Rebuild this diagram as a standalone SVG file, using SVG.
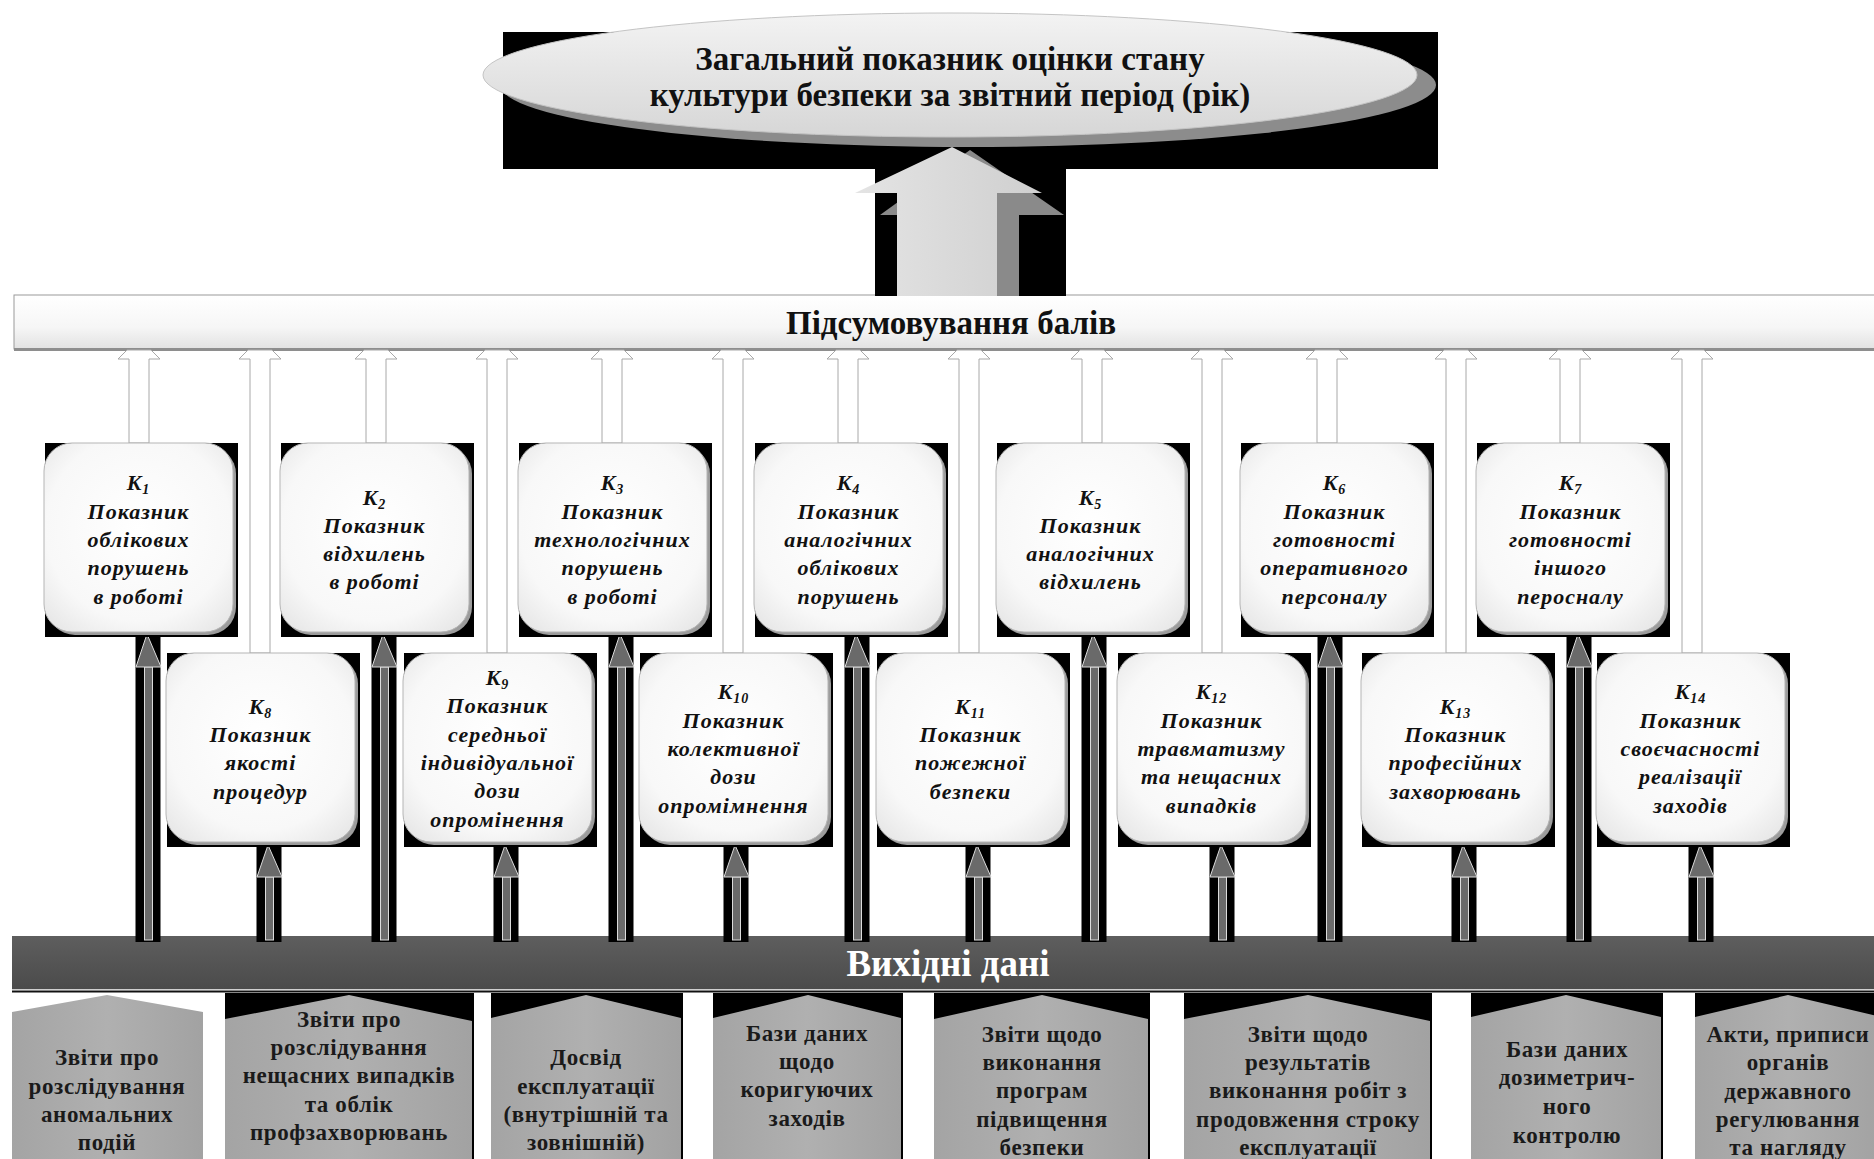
<svg xmlns="http://www.w3.org/2000/svg" width="1874" height="1159" viewBox="0 0 1874 1159">
<defs>
<linearGradient id="ellGrad" x1="0" y1="0" x2="0" y2="1"><stop offset="0" stop-color="#f3f3f3"/><stop offset="1" stop-color="#d6d6d6"/></linearGradient>
<linearGradient id="bigArr" x1="0" y1="0" x2="1" y2="0"><stop offset="0" stop-color="#e4e4e4"/><stop offset="1" stop-color="#cfcfcf"/></linearGradient>
<linearGradient id="barGrad" x1="0" y1="0" x2="0" y2="1"><stop offset="0" stop-color="#ffffff"/><stop offset="0.6" stop-color="#f6f6f6"/><stop offset="1" stop-color="#e2e2e2"/></linearGradient>
<linearGradient id="darkGrad" x1="0" y1="0" x2="0" y2="1"><stop offset="0" stop-color="#5e5e5e"/><stop offset="1" stop-color="#4b4b4b"/></linearGradient>
<radialGradient id="boxGrad" cx="0.5" cy="0.45" r="0.7"><stop offset="0" stop-color="#ffffff"/><stop offset="0.7" stop-color="#f8f8f8"/><stop offset="1" stop-color="#e6e6e6"/></radialGradient>
<linearGradient id="srcGrad" x1="0" y1="0" x2="1" y2="0"><stop offset="0" stop-color="#a4a4a4"/><stop offset="0.5" stop-color="#b0b0b0"/><stop offset="1" stop-color="#a2a2a2"/></linearGradient>
</defs>
<style>
.title{font-family:"Liberation Serif",serif;font-weight:bold;font-size:33px;fill:#111;text-anchor:middle}
.bar1{font-family:"Liberation Serif",serif;font-weight:bold;font-size:33px;fill:#111;text-anchor:middle}
.bar2{font-family:"Liberation Serif",serif;font-weight:bold;font-size:37px;fill:#fff;text-anchor:middle}
.kt{font-family:"Liberation Serif",serif;font-weight:bold;font-style:italic;font-size:22px;fill:#111;text-anchor:middle;letter-spacing:1px}
.sub{font-size:14px}
.st{font-family:"Liberation Serif",serif;font-weight:bold;font-size:23px;fill:#1a1a1a;text-anchor:middle;letter-spacing:0.6px}
.kbg{fill:#000}
.ksh{fill:#9c9c9c}
.kbox{fill:url(#boxGrad);stroke:#b5b5b5;stroke-width:1}
.thin{fill:#fff;stroke:#a8a8a8;stroke-width:1}
.tk{fill:#000}
.tka{fill:#6a6a6a;stroke:#dcdcdc;stroke-width:1}
.src{fill:url(#srcGrad)}
</style>
<rect width="1874" height="1159" fill="#fff"/>

<g id="title">
<rect x="503" y="32" width="935" height="137" fill="#000"/>
<ellipse cx="968" cy="85" rx="468" ry="62" fill="#8c8c8c"/>
<ellipse cx="950" cy="75" rx="467" ry="62" fill="url(#ellGrad)" stroke="#c4c4c4" stroke-width="1"/>
<text class="title" x="950" y="70">Загальний показник оцінки стану</text>
<text class="title" x="950" y="106">культури безпеки за звітний період (рік)</text>
</g>

<g id="bar-sum">
<rect x="14" y="295" width="1870" height="54" fill="url(#barGrad)" stroke="#9a9a9a" stroke-width="1"/>
<line x1="14" y1="349.5" x2="1874" y2="349.5" stroke="#8e8e8e" stroke-width="3"/>
<text class="bar1" x="951" y="334">Підсумовування балів</text>
</g>

<g id="bar-src">
<rect x="12" y="936" width="1870" height="53" fill="url(#darkGrad)"/>
<line x1="12" y1="989.5" x2="1874" y2="989.5" stroke="#cfcfcf" stroke-width="1"/>
<line x1="12" y1="991.5" x2="1874" y2="991.5" stroke="#111" stroke-width="2"/>
<text class="bar2" x="948" y="976">Вихідні дані</text>
</g>

<g id="connectors">
<g id="big-arrow">
<rect x="875" y="167" width="191" height="129" fill="#000"/>
<polygon points="919,296 919,215 880,215 970,150 1064,215 1019,215 1019,296" fill="#8a8a8a"/>
<polygon points="897,296 897,193 855,193 952,147 1042,193 997,193 997,296" fill="url(#bigArr)"/>
</g>
<g id="thin-arrows">
<polygon class="thin" points="129,443 129,359 118,359 127,350 151,350 160,359 149,359 149,443"/>
<polygon class="thin" points="250,653 250,359 239,359 248,350 272,350 281,359 270,359 270,653"/>
<polygon class="thin" points="366,443 366,359 355,359 364,350 388,350 397,359 386,359 386,443"/>
<polygon class="thin" points="487,653 487,359 476,359 485,350 509,350 518,359 507,359 507,653"/>
<polygon class="thin" points="602,443 602,359 591,359 600,350 624,350 633,359 622,359 622,443"/>
<polygon class="thin" points="723,653 723,359 712,359 721,350 745,350 754,359 743,359 743,653"/>
<polygon class="thin" points="838,443 838,359 827,359 836,350 860,350 869,359 858,359 858,443"/>
<polygon class="thin" points="959,653 959,359 948,359 957,350 981,350 990,359 979,359 979,653"/>
<polygon class="thin" points="1082,443 1082,359 1071,359 1080,350 1104,350 1113,359 1102,359 1102,443"/>
<polygon class="thin" points="1202,653 1202,359 1191,359 1200,350 1224,350 1233,359 1222,359 1222,653"/>
<polygon class="thin" points="1317,443 1317,359 1306,359 1315,350 1339,350 1348,359 1337,359 1337,443"/>
<polygon class="thin" points="1446,653 1446,359 1435,359 1444,350 1468,350 1477,359 1466,359 1466,653"/>
<polygon class="thin" points="1560,443 1560,359 1549,359 1558,350 1582,350 1591,359 1580,359 1580,443"/>
<polygon class="thin" points="1682,653 1682,359 1671,359 1680,350 1704,350 1713,359 1702,359 1702,653"/>
</g>
<g id="thick-arrows">
<g><rect class="tk" x="135.5" y="632" width="25" height="310"/><rect class="tka" x="144.5" y="667" width="8" height="273"/><polygon class="tka" points="147,634 136,667 161,667"/></g>
<g><rect class="tk" x="371.5" y="632" width="25" height="310"/><rect class="tka" x="380.5" y="667" width="8" height="273"/><polygon class="tka" points="383,634 372,667 397,667"/></g>
<g><rect class="tk" x="608.5" y="632" width="25" height="310"/><rect class="tka" x="617.5" y="667" width="8" height="273"/><polygon class="tka" points="620,634 609,667 634,667"/></g>
<g><rect class="tk" x="844.5" y="632" width="25" height="310"/><rect class="tka" x="853.5" y="667" width="8" height="273"/><polygon class="tka" points="856,634 845,667 870,667"/></g>
<g><rect class="tk" x="1081.5" y="632" width="25" height="310"/><rect class="tka" x="1090.5" y="667" width="8" height="273"/><polygon class="tka" points="1093,634 1082,667 1107,667"/></g>
<g><rect class="tk" x="1317.5" y="632" width="25" height="310"/><rect class="tka" x="1326.5" y="667" width="8" height="273"/><polygon class="tka" points="1329,634 1318,667 1343,667"/></g>
<g><rect class="tk" x="1566.5" y="632" width="25" height="310"/><rect class="tka" x="1575.5" y="667" width="8" height="273"/><polygon class="tka" points="1578,634 1567,667 1592,667"/></g>
<g><rect class="tk" x="256.5" y="843" width="25" height="99"/><rect class="tka" x="265.5" y="877" width="8" height="63"/><polygon class="tka" points="268,845 257,877 282,877"/></g>
<g><rect class="tk" x="493.5" y="843" width="25" height="99"/><rect class="tka" x="502.5" y="877" width="8" height="63"/><polygon class="tka" points="505,845 494,877 519,877"/></g>
<g><rect class="tk" x="723.5" y="843" width="25" height="99"/><rect class="tka" x="732.5" y="877" width="8" height="63"/><polygon class="tka" points="735,845 724,877 749,877"/></g>
<g><rect class="tk" x="965.5" y="843" width="25" height="99"/><rect class="tka" x="974.5" y="877" width="8" height="63"/><polygon class="tka" points="977,845 966,877 991,877"/></g>
<g><rect class="tk" x="1209.5" y="843" width="25" height="99"/><rect class="tka" x="1218.5" y="877" width="8" height="63"/><polygon class="tka" points="1221,845 1210,877 1235,877"/></g>
<g><rect class="tk" x="1451.5" y="843" width="25" height="99"/><rect class="tka" x="1460.5" y="877" width="8" height="63"/><polygon class="tka" points="1463,845 1452,877 1477,877"/></g>
<g><rect class="tk" x="1688.5" y="843" width="25" height="99"/><rect class="tka" x="1697.5" y="877" width="8" height="63"/><polygon class="tka" points="1700,845 1689,877 1714,877"/></g>
</g>
</g>

<g id="k1"><rect class="kbg" x="45" y="443" width="193" height="194"/><rect class="ksh" x="47" y="446" width="189" height="189" rx="28"/><rect class="kbox" x="44" y="443" width="189" height="189" rx="28"/>
<text class="kt"><tspan x="138.5" y="490">K<tspan class="sub" dy="4">1</tspan></tspan><tspan x="138.5" y="519">Показник</tspan><tspan x="138.5" y="547">облікових</tspan><tspan x="138.5" y="575">порушень</tspan><tspan x="138.5" y="604">в роботі</tspan></text></g>
<g id="k2"><rect class="kbg" x="281" y="443" width="193" height="194"/><rect class="ksh" x="283" y="446" width="189" height="189" rx="28"/><rect class="kbox" x="280" y="443" width="189" height="189" rx="28"/>
<text class="kt"><tspan x="374.5" y="505">K<tspan class="sub" dy="4">2</tspan></tspan><tspan x="374.5" y="533">Показник</tspan><tspan x="374.5" y="561">відхилень</tspan><tspan x="374.5" y="589">в роботі</tspan></text></g>
<g id="k3"><rect class="kbg" x="519" y="443" width="193" height="194"/><rect class="ksh" x="521" y="446" width="189" height="189" rx="28"/><rect class="kbox" x="518" y="443" width="189" height="189" rx="28"/>
<text class="kt"><tspan x="612.5" y="490">K<tspan class="sub" dy="4">3</tspan></tspan><tspan x="612.5" y="519">Показник</tspan><tspan x="612.5" y="547">технологічних</tspan><tspan x="612.5" y="575">порушень</tspan><tspan x="612.5" y="604">в роботі</tspan></text></g>
<g id="k4"><rect class="kbg" x="755" y="443" width="193" height="194"/><rect class="ksh" x="757" y="446" width="189" height="189" rx="28"/><rect class="kbox" x="754" y="443" width="189" height="189" rx="28"/>
<text class="kt"><tspan x="848.5" y="490">K<tspan class="sub" dy="4">4</tspan></tspan><tspan x="848.5" y="519">Показник</tspan><tspan x="848.5" y="547">аналогічних</tspan><tspan x="848.5" y="575">облікових</tspan><tspan x="848.5" y="604">порушень</tspan></text></g>
<g id="k5"><rect class="kbg" x="997" y="443" width="193" height="194"/><rect class="ksh" x="999" y="446" width="189" height="189" rx="28"/><rect class="kbox" x="996" y="443" width="189" height="189" rx="28"/>
<text class="kt"><tspan x="1090.5" y="505">K<tspan class="sub" dy="4">5</tspan></tspan><tspan x="1090.5" y="533">Показник</tspan><tspan x="1090.5" y="561">аналогічних</tspan><tspan x="1090.5" y="589">відхилень</tspan></text></g>
<g id="k6"><rect class="kbg" x="1241" y="443" width="193" height="194"/><rect class="ksh" x="1243" y="446" width="189" height="189" rx="28"/><rect class="kbox" x="1240" y="443" width="189" height="189" rx="28"/>
<text class="kt"><tspan x="1334.5" y="490">K<tspan class="sub" dy="4">6</tspan></tspan><tspan x="1334.5" y="519">Показник</tspan><tspan x="1334.5" y="547">готовності</tspan><tspan x="1334.5" y="575">оперативного</tspan><tspan x="1334.5" y="604">персоналу</tspan></text></g>
<g id="k7"><rect class="kbg" x="1477" y="443" width="193" height="194"/><rect class="ksh" x="1479" y="446" width="189" height="189" rx="28"/><rect class="kbox" x="1476" y="443" width="189" height="189" rx="28"/>
<text class="kt"><tspan x="1570.5" y="490">K<tspan class="sub" dy="4">7</tspan></tspan><tspan x="1570.5" y="519">Показник</tspan><tspan x="1570.5" y="547">готовності</tspan><tspan x="1570.5" y="575">іншого</tspan><tspan x="1570.5" y="604">пероcналу</tspan></text></g>

<g id="k8"><rect class="kbg" x="167" y="653" width="193" height="194"/><rect class="ksh" x="169" y="656" width="189" height="189" rx="28"/><rect class="kbox" x="166" y="653" width="189" height="189" rx="28"/>
<text class="kt"><tspan x="260.5" y="714">K<tspan class="sub" dy="4">8</tspan></tspan><tspan x="260.5" y="742">Показник</tspan><tspan x="260.5" y="770">якості</tspan><tspan x="260.5" y="799">процедур</tspan></text></g>
<g id="k9"><rect class="kbg" x="404" y="653" width="193" height="194"/><rect class="ksh" x="406" y="656" width="189" height="189" rx="28"/><rect class="kbox" x="403" y="653" width="189" height="189" rx="28"/>
<text class="kt"><tspan x="497.5" y="685">K<tspan class="sub" dy="4">9</tspan></tspan><tspan x="497.5" y="713">Показник</tspan><tspan x="497.5" y="742">середньої</tspan><tspan x="497.5" y="770">індивідуальної</tspan><tspan x="497.5" y="798">дози</tspan><tspan x="497.5" y="827">опромінення</tspan></text></g>
<g id="k10"><rect class="kbg" x="640" y="653" width="193" height="194"/><rect class="ksh" x="642" y="656" width="189" height="189" rx="28"/><rect class="kbox" x="639" y="653" width="189" height="189" rx="28"/>
<text class="kt"><tspan x="733.5" y="699">K<tspan class="sub" dy="4">10</tspan></tspan><tspan x="733.5" y="728">Показник</tspan><tspan x="733.5" y="756">колективної</tspan><tspan x="733.5" y="784">дози</tspan><tspan x="733.5" y="813">опромімнення</tspan></text></g>
<g id="k11"><rect class="kbg" x="877" y="653" width="193" height="194"/><rect class="ksh" x="879" y="656" width="189" height="189" rx="28"/><rect class="kbox" x="876" y="653" width="189" height="189" rx="28"/>
<text class="kt"><tspan x="970.5" y="714">K<tspan class="sub" dy="4">11</tspan></tspan><tspan x="970.5" y="742">Показник</tspan><tspan x="970.5" y="770">пожежної</tspan><tspan x="970.5" y="799">безпеки</tspan></text></g>
<g id="k12"><rect class="kbg" x="1118" y="653" width="193" height="194"/><rect class="ksh" x="1120" y="656" width="189" height="189" rx="28"/><rect class="kbox" x="1117" y="653" width="189" height="189" rx="28"/>
<text class="kt"><tspan x="1211.5" y="699">K<tspan class="sub" dy="4">12</tspan></tspan><tspan x="1211.5" y="728">Показник</tspan><tspan x="1211.5" y="756">травматизму</tspan><tspan x="1211.5" y="784">та нещасних</tspan><tspan x="1211.5" y="813">випадків</tspan></text></g>
<g id="k13"><rect class="kbg" x="1362" y="653" width="193" height="194"/><rect class="ksh" x="1364" y="656" width="189" height="189" rx="28"/><rect class="kbox" x="1361" y="653" width="189" height="189" rx="28"/>
<text class="kt"><tspan x="1455.5" y="714">K<tspan class="sub" dy="4">13</tspan></tspan><tspan x="1455.5" y="742">Показник</tspan><tspan x="1455.5" y="770">професійних</tspan><tspan x="1455.5" y="799">захворювань</tspan></text></g>
<g id="k14"><rect class="kbg" x="1597" y="653" width="193" height="194"/><rect class="ksh" x="1599" y="656" width="189" height="189" rx="28"/><rect class="kbox" x="1596" y="653" width="189" height="189" rx="28"/>
<text class="kt"><tspan x="1690.5" y="699">K<tspan class="sub" dy="4">14</tspan></tspan><tspan x="1690.5" y="728">Показник</tspan><tspan x="1690.5" y="756">своєчасності</tspan><tspan x="1690.5" y="784">реалізації</tspan><tspan x="1690.5" y="813">заходів</tspan></text></g>

<g id="s1"><polygon class="src" points="12,1012 107,995 203,1012 203,1165 12,1165"/>
<text class="st"><tspan x="107" y="1065">Звіти про</tspan><tspan x="107" y="1094">розслідування</tspan><tspan x="107" y="1122">аномальних</tspan><tspan x="107" y="1150">подій</tspan></text></g>
<g id="s2"><rect fill="#000" x="225" y="993" width="249" height="170"/><polygon class="src" points="225,1019 349,995 472,1021 472,1165 225,1165"/>
<text class="st"><tspan x="349" y="1027">Звіти про</tspan><tspan x="349" y="1055">розслідування</tspan><tspan x="349" y="1083">нещасних випадків</tspan><tspan x="349" y="1112">та облік</tspan><tspan x="349" y="1140">профзахворювань</tspan></text></g>
<g id="s3"><rect fill="#000" x="491" y="993" width="192" height="170"/><polygon class="src" points="491,1018 586,995 681,1018 681,1165 491,1165"/>
<text class="st"><tspan x="586" y="1065">Досвід</tspan><tspan x="586" y="1094">експлуатації</tspan><tspan x="586" y="1122">(внутрішній та</tspan><tspan x="586" y="1150">зовнішній)</tspan></text></g>
<g id="s4"><rect fill="#000" x="713" y="993" width="190" height="170"/><polygon class="src" points="713,1018 808,995 901,1018 901,1165 713,1165"/>
<text class="st"><tspan x="807" y="1041">Бази даних</tspan><tspan x="807" y="1069">щодо</tspan><tspan x="807" y="1097">коригуючих</tspan><tspan x="807" y="1126">заходів</tspan></text></g>
<g id="s5"><rect fill="#000" x="934" y="993" width="216" height="170"/><polygon class="src" points="934,1019 1042,995 1148,1019 1148,1165 934,1165"/>
<text class="st"><tspan x="1042" y="1042">Звіти щодо</tspan><tspan x="1042" y="1070">виконання</tspan><tspan x="1042" y="1098">програм</tspan><tspan x="1042" y="1127">підвищення</tspan><tspan x="1042" y="1155">безпеки</tspan></text></g>
<g id="s6"><rect fill="#000" x="1184" y="993" width="248" height="170"/><polygon class="src" points="1184,1019 1308,995 1430,1021 1430,1165 1184,1165"/>
<text class="st"><tspan x="1308" y="1042">Звіти щодо</tspan><tspan x="1308" y="1070">результатів</tspan><tspan x="1308" y="1098">виконання робіт з</tspan><tspan x="1308" y="1127">продовження строку</tspan><tspan x="1308" y="1155">експлуатації</tspan></text></g>
<g id="s7"><rect fill="#000" x="1471" y="993" width="192" height="170"/><polygon class="src" points="1471,1017 1566,995 1661,1017 1661,1165 1471,1165"/>
<text class="st"><tspan x="1567" y="1057">Бази даних</tspan><tspan x="1567" y="1085">дозиметрич-</tspan><tspan x="1567" y="1114">ного</tspan><tspan x="1567" y="1143">контролю</tspan></text></g>
<g id="s8"><rect fill="#000" x="1695" y="993" width="190" height="170"/><polygon class="src" points="1695,1017 1788,995 1882,1017 1882,1165 1695,1165"/>
<text class="st"><tspan x="1788" y="1042">Акти, приписи</tspan><tspan x="1788" y="1070">органів</tspan><tspan x="1788" y="1099">державного</tspan><tspan x="1788" y="1127">регулювання</tspan><tspan x="1788" y="1155">та нагляду</tspan></text></g>
</svg>
